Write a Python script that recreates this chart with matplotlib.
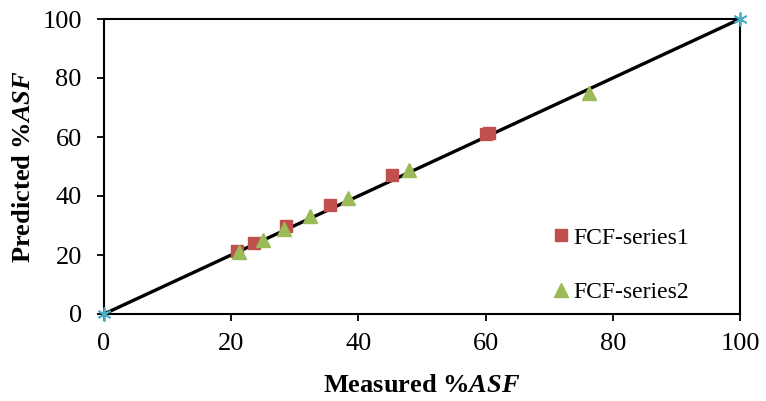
import matplotlib
matplotlib.use("Agg")
import matplotlib.pyplot as plt

plt.rcParams['font.family'] = ['Liberation Serif', 'DejaVu Serif']
plt.rcParams['mathtext.fontset'] = 'custom'
plt.rcParams['mathtext.rm'] = 'Liberation Serif'
plt.rcParams['mathtext.it'] = 'Liberation Serif:italic'
plt.rcParams['mathtext.bf'] = 'Liberation Serif:bold'
plt.rcParams['mathtext.bfit'] = 'Liberation Serif:italic:bold'

# Data
s1_measured = [20.9, 23.6, 28.6, 35.5, 45.3, 60.0, 60.6]
s1_predicted = [21.4, 24.1, 29.7, 37.0, 47.0, 61.0, 61.2]
s2_measured = [21.2, 25.0, 28.3, 32.4, 38.4, 48.0, 76.3]
s2_predicted = [21.0, 25.0, 28.8, 33.2, 39.2, 48.9, 75.0]
ref_x = [0, 100]
ref_y = [0, 100]
ticks = [0, 20, 40, 60, 80, 100]

fig = plt.figure(figsize=(7.66, 4.01), dpi=100)
ax = fig.add_axes([104/766, 1-314/401, (740-104)/766, (314-19)/401])

ax.plot(ref_x, ref_y, color='black', lw=2.4, zorder=2)
ax.plot(ref_x, ref_y, ls='none', marker=(6, 2, 0), ms=10, mec='#4BACC6', mew=1.3, zorder=4, clip_on=False)
ax.plot(s1_measured, s1_predicted, ls='none', marker='s', ms=8, color='#C0504D', label='FCF-series1', zorder=3)
ax.plot(s2_measured, s2_predicted, ls='none', marker='^', ms=10, color='#9BBB59', label='FCF-series2', zorder=3)

ax.set_xlim(0, 100)
ax.set_ylim(0, 100)
ax.set_xticks(ticks)
ax.set_yticks(ticks)
ax.tick_params(direction='out', length=5, width=1.3, labelsize=19)
ax.tick_params(axis='y', pad=11)
ax.tick_params(axis='x', pad=9)
for sp in ax.spines.values():
    sp.set_linewidth(1.5)

ax.set_xlabel('Measured %$\\mathbfit{ASF}$', fontsize=19, fontweight='bold', labelpad=13)
ax.set_ylabel('Predicted %$\\mathbfit{ASF}$', fontsize=19, fontweight='bold', labelpad=5)

leg = ax.legend(loc='center left', bbox_to_anchor=(0.707, 0.166), frameon=False, fontsize=17,
                labelspacing=1.4, handlelength=0.6, handletextpad=0.25, borderpad=0, borderaxespad=0)

fig.savefig('out.png', dpi=100)
